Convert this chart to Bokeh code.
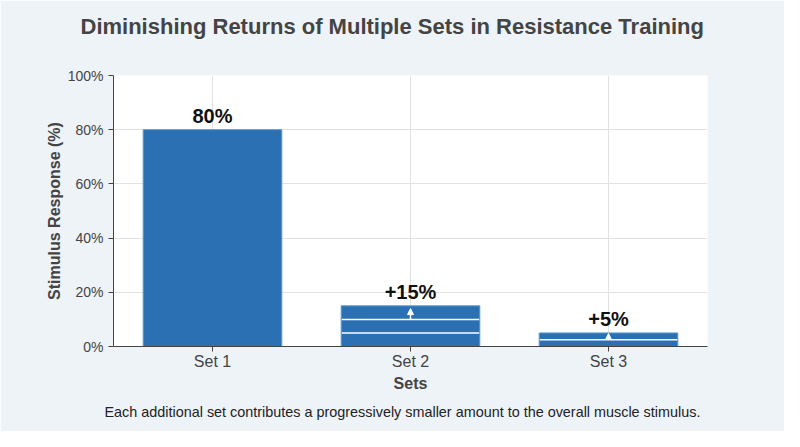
from bokeh.plotting import figure
from bokeh.models import ColumnDataSource, Title, Arrow, NormalHead, FixedTicker, PrintfTickFormatter, Range1d
from bokeh.core.properties import value
from bokeh.transform import dodge
from bokeh.embed import file_html
from bokeh.resources import INLINE

categories = ["Set 1", "Set 2", "Set 3"]
responses = [80, 15, 5]
bar_labels = ["80%", "+15%", "+5%"]
y_ticks = [0, 20, 40, 60, 80, 100]
# white divider lines inside bars
divider_cats = ["Set 2", "Set 2", "Set 3"]
divider_vals = [5, 10, 2.5]
# small upward arrows inside bars
arrow_cats = ["Set 2", "Set 3"]
arrow_start = [10, 2.5]
arrow_end = [14, 4.8]

title_text = "Diminishing Returns of Multiple Sets in Resistance Training"
caption_text = "Each additional set contributes a progressively smaller amount to the overall muscle stimulus."

BG = "#eef3f8"
BAR = "#2a70b3"
FONT = "Liberation Sans"

p = figure(x_range=categories, width=784, height=431, output_backend="svg",
           toolbar_location=None, min_border_left=113, min_border_right=77,
           min_border_top=75, min_border_bottom=85)
p.y_range = Range1d(0, 100)
p.x_range.range_padding = 0
p.background_fill_color = "white"
p.border_fill_color = BG
p.outline_line_color = None

src = ColumnDataSource(dict(cat=categories, val=responses, lab=bar_labels))
p.vbar(x="cat", top="val", width=0.7, source=src, fill_color=BAR, line_color="#5a97cf", line_width=1)

half = 0.35
dsrc = ColumnDataSource(dict(cat=divider_cats, v=divider_vals))
p.segment(x0=dodge("cat", -half + 0.003, range=p.x_range), x1=dodge("cat", half - 0.003, range=p.x_range),
          y0="v", y1="v", source=dsrc, line_color="white", line_width=1.5)

asrc = ColumnDataSource(dict(cat=arrow_cats, s=arrow_start, e=arrow_end))
p.add_layout(Arrow(source=asrc, x_start="cat", x_end="cat", y_start="s", y_end="e",
                   line_color="white", line_width=1.5,
                   end=NormalHead(size=6, fill_color="white", line_color="white")))

p.text(x="cat", y="val", text="lab", source=src, y_offset=-3, text_align="center", text_baseline="bottom",
       text_font=value(FONT), text_font_style="bold", text_font_size="20px", text_color="#111111")

p.yaxis.ticker = FixedTicker(ticks=y_ticks)
p.yaxis.formatter = PrintfTickFormatter(format="%d%%")
for ax in (p.xaxis[0], p.yaxis[0]):
    ax.axis_line_color = "#444444"
    ax.major_tick_line_color = "#444444"
    ax.minor_tick_line_color = None
    ax.major_tick_out = 5
    ax.major_tick_in = 0
    ax.major_label_text_font = FONT
    ax.major_label_text_color = "#444444"
    ax.axis_label_text_font = FONT
    ax.axis_label_text_font_style = "bold"
    ax.axis_label_text_font_size = "16px"
    ax.axis_label_text_color = "#444444"
p.xaxis.major_label_text_font_size = "16px"
p.yaxis.major_label_text_font_size = "14px"
p.yaxis.axis_label = "Stimulus Response (%)"
p.xaxis.axis_label = "Sets"
p.yaxis.axis_label_standoff = 2
p.xaxis.axis_label_standoff = 2
p.xaxis.major_label_standoff = 1

p.grid.grid_line_color = "#e2e2e2"
p.grid.grid_line_width = 1

# main title (outermost in the top panel)
p.title.text = title_text
p.title.align = "left"
p.title.vertical_align = "top"
p.title.offset = -33
p.title.standoff = 0
p.title.text_font = FONT
p.title.text_font_style = "bold"
p.title.text_font_size = "22px"
p.title.text_color = "#444444"

# spacer between the title and the plot frame
spacer = Title(text=" ", text_font_size="10px", standoff=22)
p.add_layout(spacer, "above")

cap = Title(text=caption_text, align="left", text_font=FONT, text_font_style="normal",
            text_font_size="14.4px", text_color="#222222", offset=-9, standoff=14)
p.add_layout(cap, "below")

open("out.html", "w").write(file_html(p, INLINE))
